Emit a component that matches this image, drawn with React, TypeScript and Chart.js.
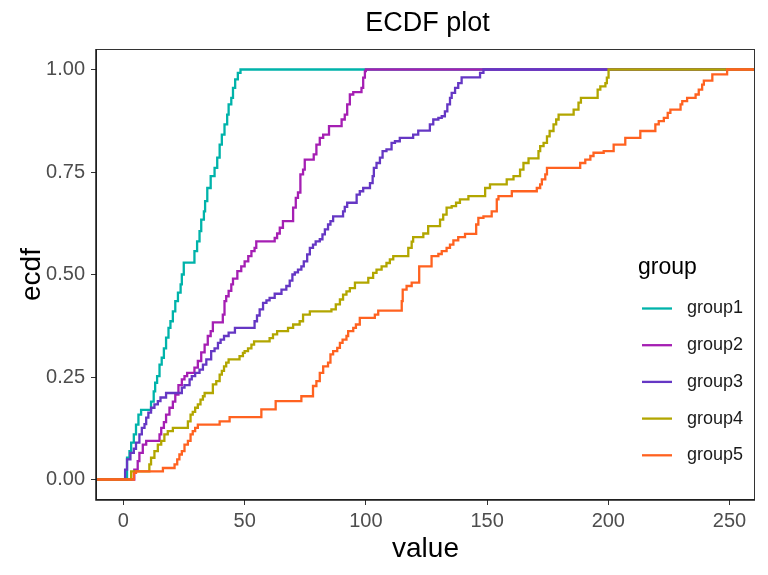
import React, { useEffect, useRef } from "react";
import { Chart, registerables } from "chart.js";

Chart.register(...registerables);

const TITLE = "ECDF plot";
const X_TITLE = "value";
const Y_TITLE = "ecdf";
const LEGEND_TITLE = "group";

const groupNames = ["group1", "group2", "group3", "group4", "group5"];
const groupColors = ["#00B3AA", "#A51FB3", "#6537C4", "#B2A600", "#FF6220"];

const xTicks = [0, 50, 100, 150, 200, 250];
const yTicks = [0, 0.25, 0.5, 0.75, 1];

const X_MIN = -11.3;
const X_MAX = 260.5;
const Y_MIN = -0.05;
const Y_MAX = 1.05;

// ECDF step points (value, cumulative proportion)
const g1X = [1.5, 2.5, 3.2, 4.3, 5.2, 6.2, 7.3, 11.4, 12.5, 13.1, 13.9, 14.9, 15.8, 16.7, 17.6, 18.6, 19.4, 20.4, 21.4, 22.5, 23.6, 24.1, 24.9, 29.3, 30.4, 31.4, 32.1, 33.2, 33.7, 34.6, 36.0, 37.6, 38.7, 39.7, 40.6, 41.7, 42.8, 43.4, 44.5, 45.2, 46.1, 47.2, 48.3];
const g1Y = [0.053, 0.069, 0.09, 0.11, 0.134, 0.158, 0.17, 0.19, 0.215, 0.236, 0.252, 0.28, 0.297, 0.32, 0.346, 0.37, 0.386, 0.41, 0.435, 0.456, 0.476, 0.5, 0.529, 0.557, 0.581, 0.606, 0.634, 0.654, 0.679, 0.711, 0.74, 0.76, 0.785, 0.817, 0.841, 0.866, 0.89, 0.915, 0.931, 0.955, 0.976, 0.992, 1.0];

const g2X = [4.5, 5.9, 6.6, 8.0, 9.4, 14.9, 15.6, 16.7, 17.6, 19.0, 20.4, 21.4, 22.7, 24.1, 25.2, 26.3, 29.3, 30.7, 32.1, 33.5, 34.8, 36.0, 36.9, 41.0, 41.7, 42.4, 43.4, 44.5, 45.2, 47.0, 48.6, 50.0, 51.5, 52.8, 54.1, 54.8, 62.4, 63.4, 64.5, 65.8, 70.0, 71.1, 72.0, 73.0, 74.1, 74.8, 78.5, 79.6, 81.0, 82.4, 84.8, 90.0, 91.3, 92.3, 93.4, 94.8, 98.2, 98.9, 99.6, 100.0];
const g2Y = [0.024, 0.045, 0.065, 0.085, 0.094, 0.11, 0.126, 0.14, 0.158, 0.175, 0.19, 0.207, 0.23, 0.244, 0.252, 0.26, 0.273, 0.289, 0.31, 0.329, 0.35, 0.362, 0.383, 0.402, 0.435, 0.447, 0.46, 0.476, 0.49, 0.508, 0.52, 0.532, 0.545, 0.557, 0.565, 0.581, 0.589, 0.6, 0.614, 0.63, 0.663, 0.687, 0.7, 0.744, 0.756, 0.78, 0.793, 0.817, 0.833, 0.841, 0.862, 0.878, 0.89, 0.915, 0.939, 0.945, 0.955, 0.98, 0.996, 1.0];

const g3X = [0.7, 1.5, 2.9, 4.3, 5.2, 6.6, 7.6, 8.7, 9.4, 10.3, 11.4, 12.8, 14.2, 15.3, 17.6, 24.1, 25.2, 27.3, 28.2, 29.6, 31.4, 32.8, 34.2, 36.2, 37.6, 39.0, 40.1, 41.5, 43.4, 46.0, 54.1, 55.1, 56.2, 57.6, 59.0, 60.3, 62.4, 65.2, 67.2, 68.6, 69.7, 70.7, 72.0, 73.4, 74.4, 75.8, 76.9, 78.2, 79.3, 81.0, 82.1, 83.1, 84.4, 85.4, 86.5, 90.6, 91.3, 92.3, 96.2, 97.5, 98.9, 101.7, 102.8, 103.3, 104.4, 105.8, 106.9, 108.5, 110.6, 112.0, 114.0, 119.5, 121.6, 126.4, 127.8, 129.9, 131.3, 132.6, 133.6, 134.7, 135.4, 136.8, 138.1, 139.5, 147.1, 148.5];
const g3Y = [0.024, 0.049, 0.065, 0.075, 0.09, 0.11, 0.126, 0.135, 0.151, 0.163, 0.175, 0.183, 0.191, 0.2, 0.211, 0.224, 0.23, 0.244, 0.252, 0.26, 0.268, 0.28, 0.293, 0.313, 0.32, 0.333, 0.341, 0.35, 0.358, 0.37, 0.386, 0.4, 0.415, 0.431, 0.437, 0.443, 0.453, 0.463, 0.472, 0.485, 0.5, 0.505, 0.512, 0.52, 0.532, 0.549, 0.565, 0.573, 0.581, 0.586, 0.598, 0.61, 0.622, 0.63, 0.642, 0.654, 0.665, 0.675, 0.695, 0.703, 0.711, 0.723, 0.74, 0.76, 0.772, 0.785, 0.801, 0.805, 0.821, 0.825, 0.833, 0.841, 0.851, 0.866, 0.878, 0.882, 0.886, 0.898, 0.915, 0.931, 0.943, 0.955, 0.967, 0.981, 0.992, 1.0];

const g4X = [3.2, 10.7, 11.4, 12.8, 14.2, 15.6, 16.9, 18.3, 20.4, 26.6, 27.7, 28.6, 29.6, 30.7, 31.8, 32.8, 33.5, 36.9, 38.3, 39.7, 40.6, 41.5, 42.4, 43.4, 47.9, 49.3, 50.0, 51.4, 52.8, 53.9, 60.3, 61.7, 63.4, 67.9, 70.0, 72.7, 74.1, 76.9, 85.8, 87.6, 89.3, 90.6, 92.0, 93.4, 95.5, 101.0, 103.0, 104.4, 106.5, 108.5, 109.9, 111.3, 117.5, 118.9, 119.5, 123.7, 125.7, 130.6, 131.9, 133.3, 135.4, 137.2, 138.8, 142.3, 149.2, 151.2, 158.1, 160.9, 163.6, 165.0, 167.1, 171.2, 171.9, 173.3, 174.7, 175.8, 177.4, 178.5, 179.5, 185.7, 187.7, 188.7, 195.6, 196.7, 198.8, 199.4, 200.1];
const g4Y = [0.02, 0.037, 0.053, 0.069, 0.085, 0.094, 0.11, 0.118, 0.126, 0.142, 0.158, 0.165, 0.175, 0.183, 0.195, 0.203, 0.211, 0.232, 0.24, 0.256, 0.265, 0.276, 0.285, 0.293, 0.301, 0.309, 0.313, 0.32, 0.329, 0.337, 0.345, 0.354, 0.362, 0.37, 0.378, 0.386, 0.402, 0.41, 0.415, 0.427, 0.439, 0.451, 0.459, 0.467, 0.48, 0.492, 0.504, 0.512, 0.52, 0.528, 0.537, 0.545, 0.565, 0.58, 0.591, 0.6, 0.618, 0.634, 0.646, 0.663, 0.667, 0.675, 0.683, 0.691, 0.711, 0.72, 0.732, 0.74, 0.756, 0.772, 0.783, 0.801, 0.813, 0.821, 0.837, 0.85, 0.866, 0.878, 0.89, 0.902, 0.919, 0.931, 0.951, 0.959, 0.967, 0.98, 1.0];

const g5X = [4.3, 5.2, 16.3, 21.1, 22.2, 23.1, 24.1, 25.2, 26.6, 27.7, 28.6, 29.6, 30.7, 39.7, 43.8, 56.9, 62.8, 73.4, 78.2, 79.6, 81.0, 82.4, 84.4, 85.4, 86.5, 88.2, 89.3, 90.4, 92.0, 92.7, 94.8, 95.9, 97.5, 103.7, 105.1, 114.8, 115.2, 116.8, 118.9, 122.0, 127.1, 129.9, 131.3, 133.3, 134.7, 136.1, 138.1, 140.9, 145.5, 146.4, 148.5, 151.9, 154.0, 154.7, 160.2, 170.5, 171.9, 172.6, 174.0, 174.7, 188.4, 190.5, 192.6, 193.9, 198.1, 202.2, 207.0, 213.2, 219.4, 220.8, 222.9, 224.5, 225.6, 229.8, 230.5, 232.5, 236.0, 237.3, 238.7, 239.4, 242.9, 249.0];
const g5Y = [0.016, 0.02, 0.028, 0.037, 0.049, 0.061, 0.069, 0.085, 0.094, 0.11, 0.118, 0.126, 0.134, 0.142, 0.152, 0.171, 0.191, 0.203, 0.228, 0.24, 0.26, 0.276, 0.285, 0.305, 0.313, 0.321, 0.333, 0.341, 0.35, 0.362, 0.37, 0.378, 0.394, 0.402, 0.412, 0.435, 0.463, 0.472, 0.48, 0.52, 0.545, 0.55, 0.557, 0.565, 0.573, 0.583, 0.591, 0.599, 0.622, 0.638, 0.642, 0.654, 0.683, 0.691, 0.703, 0.711, 0.72, 0.732, 0.744, 0.76, 0.772, 0.78, 0.789, 0.797, 0.801, 0.817, 0.833, 0.85, 0.866, 0.874, 0.882, 0.894, 0.902, 0.915, 0.923, 0.931, 0.939, 0.951, 0.963, 0.973, 0.988, 1.0];

const seriesX = [g1X, g2X, g3X, g4X, g5X];
const seriesY = [g1Y, g2Y, g3Y, g4Y, g5Y];

const W = 768;
const H = 575;
const FONT = "'Liberation Sans', Arial, Helvetica, sans-serif";

export default function App() {
  const ref = useRef<HTMLCanvasElement | null>(null);

  useEffect(() => {
    const canvas = ref.current;
    if (!canvas) return;

    const datasets = groupNames.map((name, i) => ({
      label: name,
      data: [
        { x: X_MIN, y: 0 },
        ...seriesX[i].map((x, j) => ({ x, y: seriesY[i][j] })),
        { x: X_MAX, y: 1 },
      ],
      borderColor: groupColors[i],
      backgroundColor: groupColors[i],
      borderWidth: 2.3,
      stepped: true as const,
      showLine: true,
      pointRadius: 0,
      pointHoverRadius: 0,
      fill: false,
      clip: 0,
      order: groupNames.length - i,
    }));

    const deco = {
      id: "deco",
      afterDraw(chart: any) {
        const { ctx, chartArea: a } = chart;
        ctx.save();
        // panel border
        ctx.strokeStyle = "#333333";
        ctx.lineWidth = 1;
        ctx.strokeRect(a.left + 0.5, a.top + 0.5, a.right - a.left - 1, a.bottom - a.top - 1);
        ctx.strokeStyle = "#1a1a1a";
        ctx.lineWidth = 1.5;
        ctx.beginPath();
        ctx.moveTo(a.left, a.top);
        ctx.lineTo(a.left, a.bottom);
        ctx.lineTo(a.right, a.bottom);
        ctx.stroke();

        ctx.fillStyle = "#000000";
        ctx.textAlign = "center";
        ctx.textBaseline = "alphabetic";
        const cx = (a.left + a.right) / 2;
        ctx.font = `27px ${FONT}`;
        ctx.fillText(TITLE, cx + 2, 31);
        ctx.font = `28px ${FONT}`;
        ctx.fillText(X_TITLE, cx, 557);
        ctx.save();
        ctx.translate(40, (a.top + a.bottom) / 2);
        ctx.rotate(-Math.PI / 2);
        ctx.fillText(Y_TITLE, 0, 0);
        ctx.restore();

        // legend
        ctx.textAlign = "left";
        ctx.textBaseline = "middle";
        ctx.fillStyle = "#000000";
        ctx.font = `23px ${FONT}`;
        ctx.fillText(LEGEND_TITLE, 638, 268);
        ctx.font = `18px ${FONT}`;
        groupNames.forEach((name, i) => {
          const y = 308.5 + i * 36.7;
          ctx.strokeStyle = groupColors[i];
          ctx.lineWidth = 2.3;
          ctx.beginPath();
          ctx.moveTo(642, y);
          ctx.lineTo(672, y);
          ctx.stroke();
          ctx.fillStyle = "#1a1a1a";
          ctx.fillText(name, 687, y);
        });
        ctx.restore();
      },
    };

    const chart = new Chart(canvas, {
      type: "scatter",
      data: { datasets },
      options: {
        responsive: false,
        animation: false,
        devicePixelRatio: 1,
        events: [],
        layout: { padding: { top: 49, right: 13, left: 0, bottom: 0 } },
        plugins: {
          legend: { display: false },
          tooltip: { enabled: false },
          title: { display: false },
        },
        scales: {
          x: {
            type: "linear",
            min: X_MIN,
            max: X_MAX,
            afterBuildTicks: (s: any) => {
              s.ticks = xTicks.map((v) => ({ value: v }));
            },
            afterFit: (s: any) => {
              s.height = 75;
            },
            grid: {
              display: true,
              drawOnChartArea: false,
              drawTicks: true,
              tickLength: 5,
              color: "#333333",
              lineWidth: 1,
            },
            border: { display: false },
            ticks: {
              padding: 4,
              color: "#4D4D4D",
              font: { family: FONT, size: 20 },
              maxRotation: 0,
              autoSkip: false,
              callback: (v: any) => String(v),
            },
          },
          y: {
            type: "linear",
            min: Y_MIN,
            max: Y_MAX,
            afterBuildTicks: (s: any) => {
              s.ticks = yTicks.map((v) => ({ value: v }));
            },
            afterFit: (s: any) => {
              s.width = 96;
            },
            grid: {
              display: true,
              drawOnChartArea: false,
              drawTicks: true,
              tickLength: 5,
              color: "#333333",
              lineWidth: 1,
            },
            border: { display: false },
            ticks: {
              padding: 6,
              color: "#4D4D4D",
              font: { family: FONT, size: 20 },
              autoSkip: false,
              callback: (v: any) => Number(v).toFixed(2),
            },
          },
        },
      },
      plugins: [deco],
    } as any);

    return () => {
      chart.destroy();
    };
  }, []);

  return (
    <div style={{ position: "fixed", left: 0, top: 0, width: W, height: H, background: "#ffffff" }}>
      <canvas ref={ref} width={W} height={H} style={{ display: "block", width: W, height: H }} />
    </div>
  );
}
